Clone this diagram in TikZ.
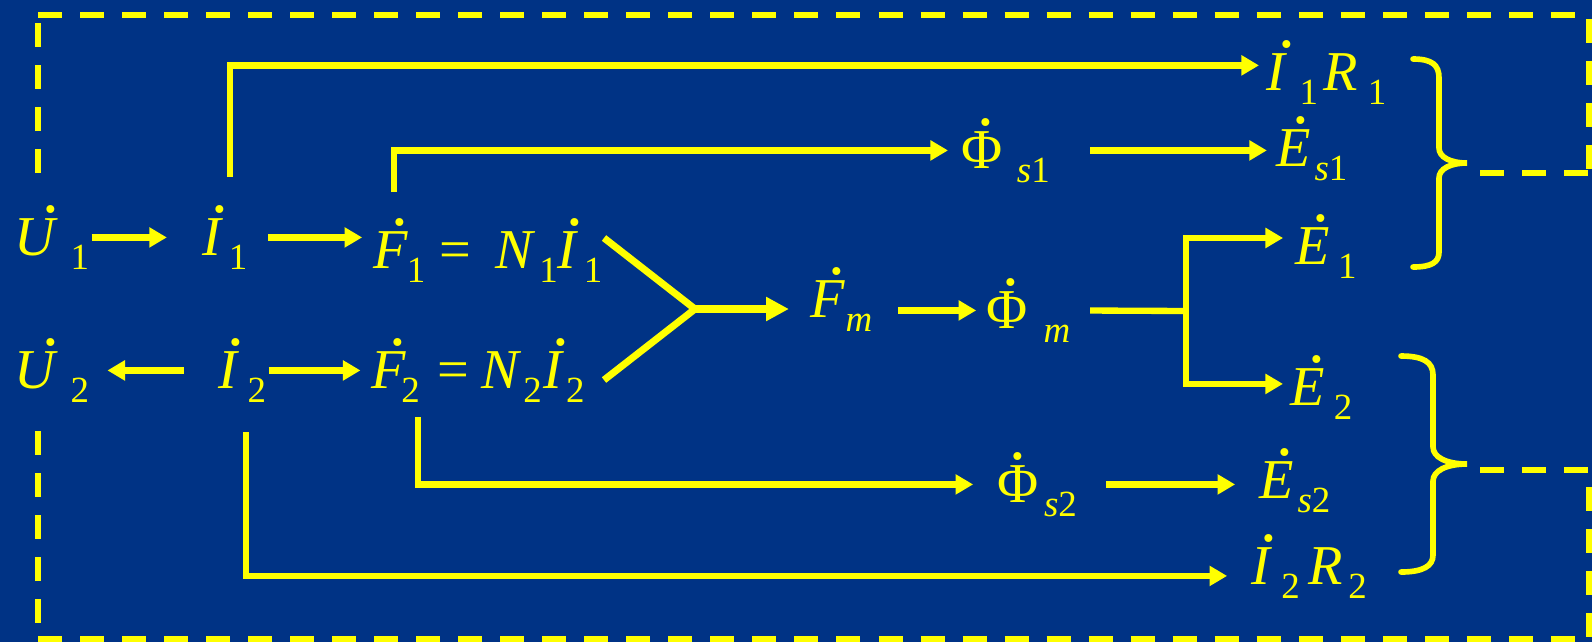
\documentclass[tikz,border=0pt]{standalone}
\usepackage{fontspec}
\setmainfont{Liberation Serif}
\usetikzlibrary{arrows.meta}

% dotted (phasor) letter, optional shift of the dot to the right
\newcommand\vd[2][0pt]{\setbox0\hbox{#2}\rlap{\hbox to\wd0{\hss\kern#1\raisebox{\dimexpr\ht0+1.6pt\relax}{\fontsize{19}{19}\selectfont .}\kern-#1\hss}}\box0}
% lowered subscript
\newcommand\lowsub[1]{\raisebox{-4pt}{\fontsize{10.5}{12}\selectfont #1}}

\begin{document}
\begin{tikzpicture}[x=0.01cm, y=-0.01cm,
    lbl/.style={anchor=base west, inner sep=0pt, text height=10pt, text depth=0pt,
                text=lineColour, font=\fontsize{16}{19}\selectfont},
    link/.style={draw=lineColour, line width=1.8pt},
    arr/.style={link, -{Triangle[length=5pt,width=5.5pt]}},
    frame/.style={draw=lineColour, line width=1.7pt, dash pattern=on 0.24cm off 0.18cm},
    curly/.style={draw=lineColour, line width=1.6pt, line cap=round}]
    % Define colours
    \definecolor{lineColour}{HTML}{FFFF00}
    \definecolor{backColour}{HTML}{003385}

    % Background
    \useasboundingbox (0,0) rectangle (1592,642);
    \fill[backColour] (0,0) rectangle (1592,642);

    % Draw the dashed frame
    \draw[frame] (38,173) -- (38,15);
    \draw[frame] (38,15) -- (1589,15) -- (1589,173);
    \draw[frame] (1480,173) -- (1589,173);
    \draw[frame] (1480,470) -- (1589,470) -- (1589,639);
    \draw[frame] (38,639) -- (1589,639);
    \draw[frame] (38,431) -- (38,639);

    % Primary side
    \node[lbl] (u1) at (14,255) {\vd[4pt]{\textit{U}}\kern3.5pt\lowsub{1}};
    \node[lbl] (i1) at (202,255) {\vd[2pt]{\textit{I}}\kern1.5pt\lowsub{1}};
    \node[lbl] (f1) at (373,268) {\vd[2.5pt]{\textit{F}}\kern-0.5pt\lowsub{1}\kern4pt=\kern7pt\textit{N}\kern1pt\lowsub{1}\vd[2pt]{\textit{I}}\kern1.5pt\lowsub{1}};

    % Secondary side
    \node[lbl] (u2) at (14,388) {\vd[4pt]{\textit{U}}\kern3.5pt\lowsub{2}};
    \node[lbl] (i2) at (218,388) {\vd[2pt]{\textit{I}}\kern2.3pt\lowsub{2}};
    \node[lbl] (f2) at (371,388) {\vd[2.5pt]{\textit{F}}\kern-1.5pt\lowsub{2}\kern5pt=\kern3.5pt\textit{N}\kern0.5pt\lowsub{2}\kern0.5pt\vd[2pt]{\textit{I}}\kern0.5pt\lowsub{2}};

    % Mutual flux
    \node[lbl] (fm) at (810,317) {\vd[2.5pt]{\textit{F}}\lowsub{\textit{m}}};
    \node[lbl] (phim) at (986,328) {\vd[1pt]{Φ}\kern4.5pt\lowsub{\textit{m}}};
    \node[lbl] (e1) at (1295,264) {\vd[2.2pt]{\textit{E}}\kern2.3pt\lowsub{1}};
    \node[lbl] (e2) at (1290,405) {\vd[2.5pt]{\textit{E}}\kern2.5pt\lowsub{2}};

    % Leakage fluxes and resistive drops
    \node[lbl] (phis1) at (961,168) {\vd[1pt]{Φ}\kern4pt\lowsub{\textit{s}1}};
    \node[lbl] (es1) at (1276,166) {\vd[2pt]{\textit{E}}\kern1pt\lowsub{\textit{s}1}};
    \node[lbl] (phis2) at (997,502) {\vd{Φ}\kern1.5pt\lowsub{\textit{s}2}};
    \node[lbl] (es2) at (1259,498) {\vd[2.2pt]{\textit{E}}\kern1pt\lowsub{\textit{s}2}};
    \node[lbl] (i1r1) at (1266,90) {\vd[2.7pt]{\textit{I}}\kern3.4pt\lowsub{1}\kern1.4pt\textit{R}\kern3pt\lowsub{1}};
    \node[lbl] (i2r2) at (1251,584) {\vd[2pt]{\textit{I}}\kern2.5pt\lowsub{2}\kern2.3pt\textit{R}\kern1.7pt\lowsub{2}};

    % Free ends of the connectors
    \coordinate (i1up) at (230,177);
    \coordinate (f1up) at (394,192);
    \coordinate (f2dn) at (418,417);
    \coordinate (i2dn) at (246,432);
    \coordinate (yup) at (604,238);
    \coordinate (ylo) at (604,380);
    \coordinate (yj) at (695,309);
    \coordinate (br) at (1186,311);

    % Straight arrows
    \draw[arr, shorten <=0.5pt, shorten >=10pt] (u1.east) -- (u1.east -| i1.west);
    \draw[arr, yshift=-1pt, shorten <=5.8pt, shorten >=3.1pt] (i1.east) -- (i1.east -| f1.west);
    \draw[arr, shorten <=9.7pt, shorten >=5pt] (i2.west) -- (i2.west -| u2.east);
    \draw[arr, shorten <=0.5pt, shorten >=3pt] (i2.east) -- (i2.east -| f2.west);
    \draw[arr, shorten <=11.2pt, shorten >=2.6pt] (phis1.east) -- (phis1.east -| es1.west);
    \draw[arr, yshift=-1.9pt, shorten <=8pt, shorten >=6.8pt] (phis2.east) -- (phis2.east -| es2.west);
    \draw[arr, shorten <=7.2pt, shorten >=2.8pt] (phim.west -| fm.east) -- (phim.west);

    % Elbow arrows
    \draw[arr, shorten >=2pt] (i1up) |- ([yshift=2pt]i1r1.west);
    \draw[arr, shorten >=3.7pt] (f1up) |- (phis1.west);
    \draw[arr, shorten >=6.8pt] (f2dn) |- (phis2.west);
    \draw[arr, shorten >=6.8pt] (i2dn) |- ([yshift=-2.7pt]i2r2.west);

    % Sum of the two MMFs
    \draw[link, line width=2pt] (yup) -- (yj) -- (ylo);
    \draw[link, line width=2.3pt, -{Triangle[length=6.5pt,width=6.5pt]}, shorten >=6pt] (yj) -- (yj -| fm.west);

    % Branch of the mutual flux
    \draw[link, shorten <=5.4pt] (phim.east) -- (br);
    \draw[arr, shorten >=3.4pt] (br) |- ([yshift=2.4pt]e1.west);
    \draw[arr, shorten >=2pt] (br) |- ([yshift=1pt]e2.west);

    % Braces
    \draw[curly] (1413,59) .. controls (1432,59) and (1439,65) .. (1439,78) -- (1439,148)
        .. controls (1439,157) and (1450,163) .. (1467,163)
        .. controls (1450,163) and (1439,169) .. (1439,178) -- (1439,252)
        .. controls (1439,262) and (1432,267) .. (1413,267);
    \draw[curly] (1401,356) .. controls (1423,356) and (1433,362) .. (1433,375) -- (1433,447)
        .. controls (1433,457) and (1446,464) .. (1467,464)
        .. controls (1446,464) and (1433,471) .. (1433,481) -- (1433,555)
        .. controls (1433,566) and (1423,572) .. (1401,572);

\end{tikzpicture}
\end{document}
